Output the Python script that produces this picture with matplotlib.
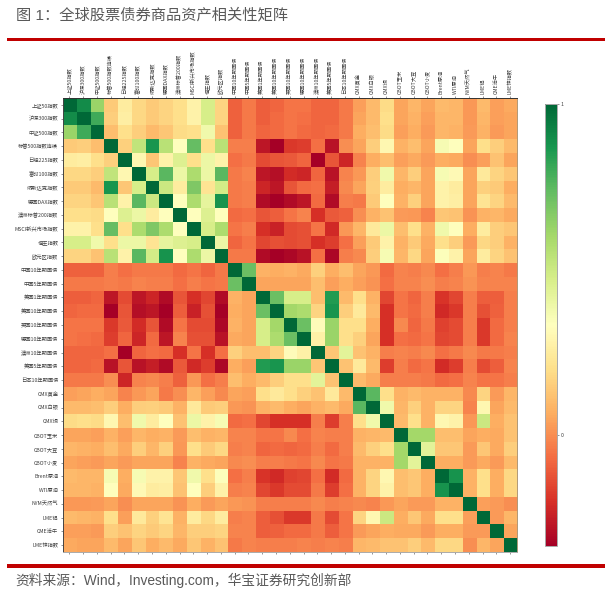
import numpy as np
import matplotlib
matplotlib.use("Agg")
import matplotlib.pyplot as plt

plt.rcParams['font.family'] = ['Noto Sans CJK SC', 'DejaVu Sans']

labels = ['上证50指数', '沪深300指数', '中证500指数', '标普500指数连续', '日经225指数', '富时100指数',
          '纳斯达克指数', '德国DAX指数', '澳洲标普200指数', 'MSCI新兴市场指数', '恒生指数', '欧元区指数',
          '中国10年期国债', '中国5年期国债', '美国1年期国债', '美国10年期国债', '英国10年期国债', '德国10年期国债',
          '澳洲10年期国债', '美国5年期国债', '日本10年期国债',
          'CMX黄金', 'CMX白银', 'CMX铜', 'CBOT玉米', 'CBOT大豆', 'CBOT小麦', 'Brent原油', 'WTI原油',
          'NYM天然气', 'LME铝', 'CME活牛', 'LME锌指数']

equity_rows = [
    [1.0, .90, .62, .14, .25, .18, .14, .17, .20, .28, .47, .17, -.09, -.04, -.10, -.08, -.05, -.05, -.08, -.08, -.04, .04, .10, .19, .05, .09, .05, .10, .09, .02, .10, .04, .06],
    [.90, 1.0, .80, .15, .26, .18, .14, .17, .20, .28, .47, .17, -.09, -.04, -.10, -.07, -.05, -.06, -.08, -.08, -.04, .05, .10, .20, .05, .08, .04, .09, .09, .02, .09, .04, .05],
    [.62, .80, 1.0, .11, .20, .15, .10, .13, .19, .20, .38, .12, -.09, -.04, -.08, -.07, -.05, -.07, -.08, -.07, -.04, .07, .11, .19, .04, .07, .03, .09, .08, .03, .08, .03, .05],
    [.14, .15, .11, 1.0, .16, .53, .87, .55, .33, .73, .20, .55, -.03, -.03, -.27, -.33, -.18, -.17, -.06, -.28, .00, .05, .15, .30, .08, .11, .05, .36, .33, .05, .20, .15, .10],
    [.25, .26, .20, .16, 1.0, .30, .13, .28, .45, .20, .40, .28, -.06, -.04, -.14, -.12, -.11, -.08, -.33, -.12, -.23, -.02, .07, .11, .04, .06, .03, .07, .06, .00, .04, .12, .05],
    [.18, .18, .15, .53, .30, 1.0, .47, .75, .40, .58, .40, .75, -.04, -.02, -.27, -.29, -.21, -.23, -.08, -.28, -.02, .02, .15, .38, .09, .15, .05, .36, .31, .05, .24, .17, .13],
    [.14, .14, .10, .87, .13, .47, 1.0, .50, .25, .68, .22, .48, -.04, -.03, -.23, -.27, -.12, -.07, -.06, -.25, -.01, .05, .16, .25, .07, .09, .05, .28, .25, .05, .16, .14, .07],
    [.17, .17, .13, .55, .28, .75, .50, 1.0, .33, .58, .42, .88, -.04, -.03, -.30, -.33, -.30, -.27, -.07, -.30, -.03, -.04, .14, .33, .08, .16, .05, .28, .26, .05, .22, .17, .10],
    [.20, .20, .19, .33, .45, .40, .25, .33, 1.0, .33, .45, .33, -.07, -.06, -.12, -.10, -.05, -.02, -.20, -.11, -.09, .00, .08, .12, .03, .02, -.02, .13, .12, .01, .08, .09, .06],
    [.28, .28, .20, .73, .20, .58, .68, .58, .33, 1.0, .47, .58, -.05, -.03, -.20, -.24, -.14, -.13, -.05, -.22, .02, .09, .24, .40, .11, .20, .08, .38, .33, .07, .25, .15, .13],
    [.47, .47, .38, .20, .40, .40, .22, .42, .45, .47, 1.0, .40, -.08, -.05, -.15, -.13, -.14, -.13, -.20, -.17, -.06, .04, .14, .28, .08, .14, .06, .20, .15, .03, .18, .15, .08],
    [.17, .17, .12, .55, .28, .75, .48, .88, .33, .58, .40, 1.0, -.04, -.04, -.30, -.34, -.31, -.28, -.06, -.31, -.03, -.01, .15, .36, .09, .18, .05, .34, .28, .05, .25, .17, .12],
]
bond_rows = [
    [-.09, -.09, -.09, -.03, -.06, -.04, -.04, -.04, -.07, -.05, -.08, -.04, 1.0, .72, .08, .07, .08, .06, .16, .07, .11, .05, .02, -.07, -.02, -.03, -.01, -.06, -.03, .02, -.03, -.02, -.04],
    [-.04, -.04, -.04, -.03, -.04, -.02, -.03, -.03, -.06, -.03, -.05, -.04, .72, 1.0, .05, .05, .05, .05, .11, .04, .07, .04, .01, -.06, -.02, -.02, .00, -.03, -.02, .01, -.02, -.02, -.02],
    [-.10, -.10, -.08, -.27, -.14, -.27, -.23, -.30, -.12, -.20, -.15, -.30, .08, .05, 1.0, .72, .47, .47, .11, .85, .10, .20, .08, -.15, -.05, -.08, -.03, -.19, -.15, -.03, -.10, -.10, -.03],
    [-.08, -.07, -.07, -.33, -.12, -.29, -.27, -.33, -.10, -.24, -.13, -.34, .07, .05, .72, 1.0, .60, .58, .17, .87, .15, .24, .10, -.20, -.05, -.07, -.03, -.22, -.18, -.03, -.13, -.09, -.03],
    [-.05, -.05, -.05, -.18, -.11, -.21, -.12, -.30, -.05, -.14, -.14, -.31, .08, .05, .47, .60, 1.0, .72, .32, .62, .20, .20, .07, -.20, -.01, -.08, -.04, -.16, -.14, -.03, -.18, -.07, -.03],
    [-.05, -.06, -.07, -.17, -.08, -.23, -.07, -.27, -.02, -.13, -.13, -.28, .06, .05, .47, .58, .72, 1.0, .27, .62, .20, .16, .05, -.20, -.06, -.07, -.05, -.15, -.14, -.03, -.18, -.07, -.02],
    [-.08, -.08, -.08, -.06, -.33, -.08, -.06, -.07, -.20, -.05, -.20, -.06, .16, .11, .11, .17, .32, .27, 1.0, .13, .43, .12, .08, -.03, -.02, -.03, -.01, -.06, -.04, -.01, -.04, -.04, -.03],
    [-.08, -.08, -.07, -.28, -.12, -.28, -.25, -.30, -.11, -.22, -.17, -.31, .07, .04, .85, .87, .62, .62, .13, 1.0, .12, .24, .10, -.17, -.03, -.07, -.05, -.21, -.17, -.03, -.14, -.10, -.02],
    [-.04, -.04, -.04, .00, -.23, -.02, -.01, -.03, -.09, .02, -.06, -.03, .11, .07, .10, .15, .20, .20, .43, .12, 1.0, .10, .06, -.03, -.03, -.03, -.04, -.07, -.06, -.02, -.05, -.05, -.03],
]
commodity_rows = [
    [.04, .05, .07, .05, -.02, .02, .05, -.04, .00, .09, .04, -.01, .05, .04, .20, .24, .20, .16, .12, .24, .10, 1.0, .75, .20, .08, .10, .08, .08, .08, -.01, .17, .03, .09],
    [.10, .10, .11, .15, .07, .15, .16, .14, .08, .24, .14, .15, .02, .01, .08, .10, .07, .05, .08, .10, .06, .75, 1.0, .38, .09, .16, .08, .17, .17, -.02, .30, .05, .10],
    [.19, .20, .19, .30, .11, .38, .25, .33, .12, .40, .28, .36, -.07, -.06, -.15, -.20, -.20, -.20, -.03, -.17, -.03, .20, .38, 1.0, .10, .20, .08, .30, .28, .02, .50, .07, .12],
    [.05, .05, .04, .08, .04, .09, .07, .08, .03, .11, .08, .09, -.02, -.02, -.05, -.05, -.01, -.06, -.02, -.03, -.03, .08, .09, .10, 1.0, .60, .60, .11, .11, .05, .07, .06, .12],
    [.09, .08, .07, .11, .06, .15, .09, .16, .02, .20, .14, .18, -.03, -.02, -.08, -.07, -.08, -.07, -.03, -.07, -.03, .10, .16, .20, .60, 1.0, .43, .13, .13, .03, .13, .06, .15],
    [.05, .04, .03, .05, .03, .05, .05, .05, -.02, .08, .06, .05, -.01, .00, -.03, -.03, -.04, -.05, -.01, -.05, -.04, .08, .08, .08, .60, .43, 1.0, .07, .07, .03, .06, .03, .10],
    [.10, .09, .09, .36, .07, .36, .28, .28, .13, .38, .20, .34, -.06, -.03, -.19, -.22, -.16, -.15, -.06, -.21, -.07, .08, .17, .30, .11, .13, .07, 1.0, .88, .08, .20, .07, .18],
    [.09, .09, .08, .33, .06, .31, .25, .26, .12, .33, .15, .28, -.03, -.02, -.15, -.18, -.14, -.14, -.04, -.17, -.06, .08, .17, .28, .11, .13, .07, .88, 1.0, .08, .20, .07, .18],
    [.02, .02, .03, .05, .00, .05, .05, .05, .01, .07, .03, .05, .02, .01, -.03, -.03, -.03, -.03, -.01, -.03, -.02, -.01, -.02, .02, .05, .03, .03, .08, .08, 1.0, .04, .03, .00],
    [.10, .09, .08, .20, .04, .24, .16, .22, .08, .25, .18, .25, -.03, -.02, -.10, -.13, -.18, -.18, -.04, -.14, -.05, .17, .30, .50, .07, .13, .06, .20, .20, .04, 1.0, .03, .09],
    [.04, .04, .03, .15, .12, .17, .14, .17, .09, .15, .15, .17, -.02, -.02, -.10, -.09, -.07, -.07, -.04, -.10, -.05, .03, .05, .07, .06, .06, .03, .07, .07, .03, .03, 1.0, .05],
    [.06, .05, .05, .10, .05, .13, .07, .10, .06, .13, .08, .12, -.04, -.02, -.03, -.03, -.03, -.02, -.03, -.02, -.03, .09, .10, .12, .12, .15, .10, .18, .18, .00, .09, .05, 1.0],
]

W, H = 613, 595
GRAY = '#595959'
corr = np.array(equity_rows + bond_rows + commodity_rows)

fig = plt.figure(figsize=(W / 100, H / 100), dpi=100)


# pixel box (left, top, right, bottom) to figure fractions
def px_axes(l, t, r, b):
    return fig.add_axes([l / W, 1 - b / H, (r - l) / W, (b - t) / H])


ax = px_axes(62.5, 98, 517, 552)
im = ax.imshow(corr, cmap='RdYlGn', vmin=-0.335, vmax=1, aspect='auto', interpolation='nearest')
ticks = np.arange(len(labels))
ax.set_xticks(ticks)
ax.set_yticks(ticks)
ax.set_xticklabels(labels, rotation=90, fontsize=3.8, color='#404040')
ax.set_yticklabels(labels, fontsize=3.8, color='#404040')
ax.tick_params(top=True, labeltop=True, bottom=True, labelbottom=False, length=1.5, width=0.4,
               pad=1.5, color='#444444')
for side, col in zip(['left', 'top', 'right', 'bottom'], ['#444444', '#333333', '#b09a7a', '#aaaaaa']):
    ax.spines[side].set_linewidth(0.7)
    ax.spines[side].set_color(col)

cax = px_axes(544.5, 104, 557, 546)
cb = fig.colorbar(im, cax=cax, ticks=[0, 1])
cb.ax.tick_params(labelsize=3.8, length=1.5, width=0.4, pad=1, color='#444444', labelcolor='#404040')
cb.outline.set_edgecolor('#aaaaaa')
cb.outline.set_linewidth(0.7)

# header and footer
fig.add_artist(plt.Rectangle((7 / W, 1 - 40.5 / H), 598 / W, 3 / H, color='#c00000', lw=0))
fig.add_artist(plt.Rectangle((7 / W, 1 - 567.5 / H), 598 / W, 3.5 / H, color='#c00000', lw=0))
text_fonts = ['Liberation Sans', 'Noto Sans CJK SC']
fig.text(16 / W, 1 - 15 / H, '图 1：全球股票债券商品资产相关性矩阵', fontsize=11, color=GRAY, va='center',
         family=text_fonts)
fig.text(15 / W, 1 - 580 / H, '资料来源：Wind，Investing.com，华宝证券研究创新部', fontsize=9.9, color=GRAY, va='center',
         family=text_fonts)

fig.savefig('out.png', dpi=100)
